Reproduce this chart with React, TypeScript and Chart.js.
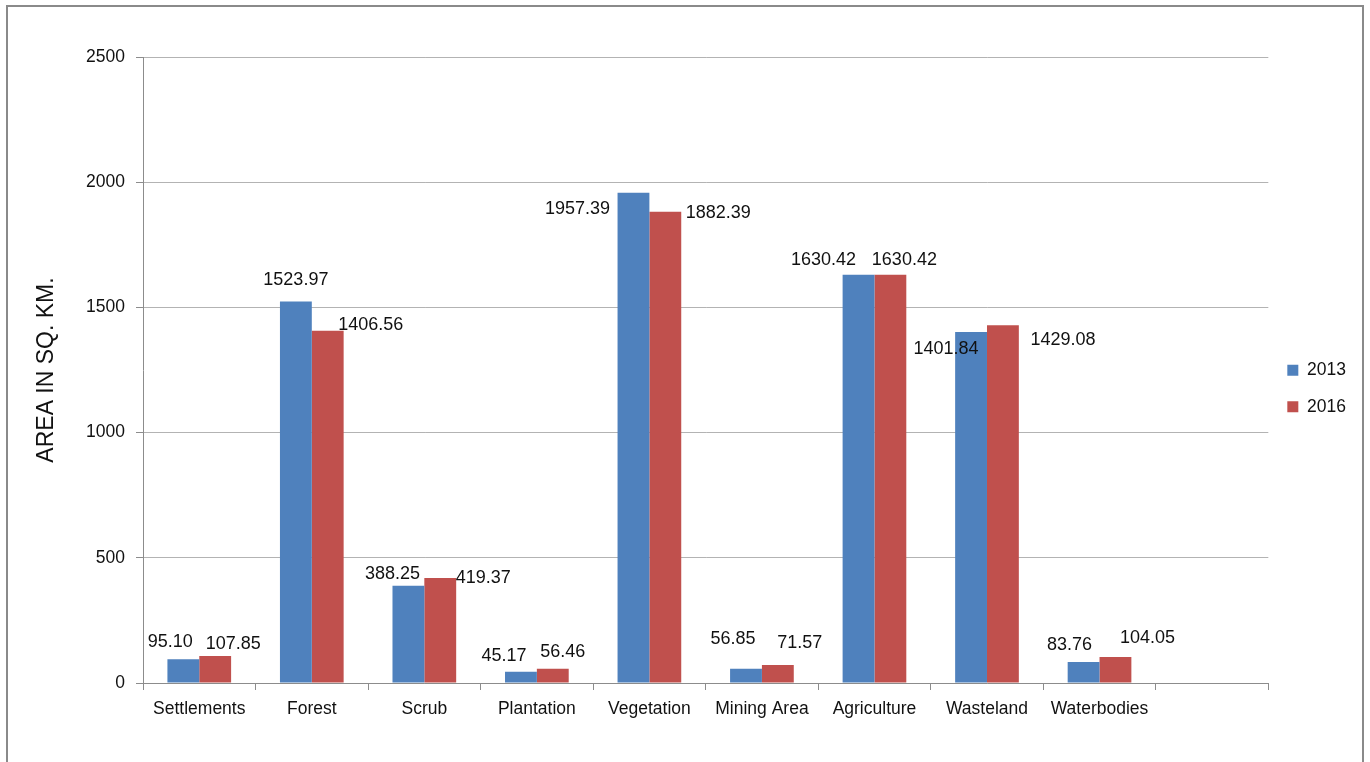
import React, { useEffect, useRef } from "react";
import { Chart, registerables } from "chart.js";

Chart.register(...registerables);

const categories = [
  "Settlements",
  "Forest",
  "Scrub",
  "Plantation",
  "Vegetation",
  "Mining Area",
  "Agriculture",
  "Wasteland",
  "Waterbodies",
  "",
];
const values2013 = [95.1, 1523.97, 388.25, 45.17, 1957.39, 56.85, 1630.42, 1401.84, 83.76, null];
const values2016 = [107.85, 1406.56, 419.37, 56.46, 1882.39, 71.57, 1630.42, 1429.08, 104.05, null];
const seriesNames = ["2013", "2016"];
const yTitle = "AREA IN SQ. KM.";

// label nudges (pixels, relative to top-centre of each bar)
const nudge2013 = [[-13, -17], [0, -21], [-16, -12], [-17, -16], [-56, 16], [-13, -30], [-35, -15], [-25, 17], [-14, -17]];
const nudge2016 = [[18, -12], [43, -6], [43, 0], [10, -17], [53, 1], [22, -22], [14, -15], [60, 15], [32, -19]];

const FONT = "'Liberation Sans', Arial, sans-serif";

const labelPlugin = {
  id: "valueLabels",
  afterDatasetsDraw(chart: any) {
    const ctx = chart.ctx;
    const nudges = [nudge2013, nudge2016];
    ctx.save();
    ctx.font = `18px ${FONT}`;
    ctx.fillStyle = "#111";
    ctx.textAlign = "center";
    ctx.textBaseline = "middle";
    chart.data.datasets.forEach((ds: any, di: number) => {
      const meta = chart.getDatasetMeta(di);
      meta.data.forEach((el: any, i: number) => {
        const v = ds.data[i];
        if (v === null || v === undefined) return;
        const n = nudges[di][i] || [0, -14];
        ctx.fillText(Number(v).toFixed(2), el.x + n[0], el.y + n[1]);
      });
    });
    ctx.restore();
  },
};

export default function App() {
  const canvasRef = useRef<HTMLCanvasElement | null>(null);

  useEffect(() => {
    document.body.style.margin = "0";
    const canvas = canvasRef.current;
    if (!canvas) return;
    const padLeft = 20;
    const padBottom = 42;
    const chart = new Chart(canvas, {
      type: "bar",
      data: {
        labels: categories,
        datasets: [
          {
            label: seriesNames[0],
            data: values2013,
            backgroundColor: "#4F81BD",
            categoryPercentage: 0.566,
            barPercentage: 1,
          },
          {
            label: seriesNames[1],
            data: values2016,
            backgroundColor: "#C0504D",
            categoryPercentage: 0.566,
            barPercentage: 1,
          },
        ],
      },
      options: {
        responsive: false,
        animation: false,
        devicePixelRatio: 1,
        layout: { padding: { left: padLeft, top: 57, right: 14, bottom: padBottom } },
        plugins: {
          tooltip: { enabled: false },
          legend: {
            position: "right",
            align: "center",
            labels: {
              boxWidth: 11,
              boxHeight: 11,
              padding: 19,
              color: "#111",
              font: { family: FONT, size: 17.5 },
            },
          },
        },
        scales: {
          x: {
            grid: {
              display: true,
              drawOnChartArea: false,
              drawTicks: true,
              tickLength: 7,
              color: "#8c8c8c",
              offset: true,
            },
            border: { display: true, color: "#8c8c8c" },
            ticks: {
              color: "#111",
              font: { family: FONT, size: 17.5 },
              padding: 9,
              maxRotation: 0,
              autoSkip: false,
            },
            afterFit(scale: any) {
              scale.height = 79 - padBottom;
            },
          },
          y: {
            min: 0,
            max: 2500,
            ticks: {
              stepSize: 500,
              color: "#111",
              font: { family: FONT, size: 17.5 },
              padding: 11,
              callback: (v: any) => String(v),
            },
            grid: {
              color: "#b3b3b3",
              tickColor: "#8c8c8c",
              tickLength: 7,
            },
            border: { display: true, color: "#8c8c8c" },
            title: {
              display: true,
              text: yTitle,
              color: "#111",
              font: { family: FONT, size: 23 },
              padding: { top: 13, bottom: 0 },
            },
            afterFit(scale: any) {
              scale.width = 143 - padLeft;
            },
          },
        },
      },
      plugins: [labelPlugin],
    });
    return () => chart.destroy();
  }, []);

  return (
    <div style={{ position: "relative", width: 1370, height: 762, overflow: "hidden", background: "#fff" }}>
      <canvas ref={canvasRef} width={1370} height={762} style={{ position: "absolute", left: 0, top: 0 }} />
      <div
        style={{
          position: "absolute",
          left: 6,
          top: 5,
          width: 1358,
          height: 800,
          boxSizing: "border-box",
          border: "2px solid #8a8a8a",
          pointerEvents: "none",
        }}
      />
    </div>
  );
}
